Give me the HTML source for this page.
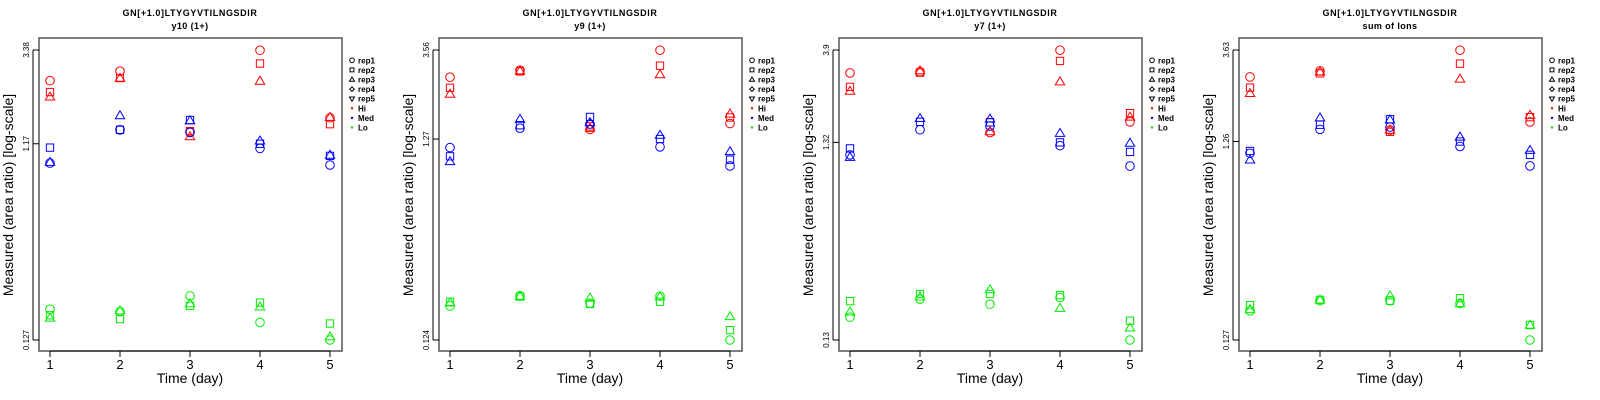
<!DOCTYPE html>
<html><head><meta charset="utf-8"><style>
body{margin:0;background:#fff;width:1600px;height:400px;overflow:hidden}
svg{display:block;font-family:"Liberation Sans",sans-serif}
</style></head><body>
<svg id="chart" width="1600" height="400" viewBox="0 0 1600 400"></svg>
<script>
const days = [1,2,3,4,5];
const groups = ["Hi","Med","Lo"];
const reps = ["rep1","rep2","rep3"];
const legendLabels = ["rep1","rep2","rep3","rep4","rep5","Hi","Med","Lo"];
const panelTitles = ["y10 (1+)","y9 (1+)","y7 (1+)","sum of Ions"];
const peptide = "GN[+1.0]LTYGYVTILNGSDIR";
const yTicks = [[0.127,1.17,3.38],[0.124,1.27,3.56],[0.13,1.32,3.9],[0.127,1.26,3.63]];
// values[panel][group][rep] = values per day
const p1Hi = [[2.39,2.66,1.34,3.37,1.57],[2.10,2.46,1.35,2.90,1.46],[1.99,2.46,1.27,2.38,1.58]];
const p1Med = [[0.94,1.37,1.33,1.11,0.92],[1.12,1.37,1.53,1.17,1.02],[0.95,1.61,1.52,1.21,1.03]];
const p1Lo = [[0.180,0.175,0.209,0.155,0.127],[0.168,0.161,0.187,0.194,0.153],[0.163,0.177,0.192,0.185,0.132]];
const p2Hi = [[2.60,2.82,1.42,3.55,1.52],[2.30,2.78,1.47,2.97,1.63],[2.14,2.80,1.44,2.68,1.70]];
const p2Med = [[1.15,1.44,1.51,1.16,0.93],[1.04,1.49,1.64,1.27,1.00],[0.98,1.60,1.54,1.33,1.10]];
const p2Lo = [[0.184,0.207,0.190,0.206,0.124],[0.193,0.205,0.188,0.193,0.139],[0.191,0.206,0.202,0.205,0.163]];
const p3Hi = [[2.98,3.02,1.48,3.89,1.68],[2.53,2.99,1.67,3.43,1.86],[2.41,3.06,1.50,2.69,1.78]];
const p3Med = [[1.14,1.53,1.60,1.27,1.00],[1.23,1.68,1.67,1.32,1.18],[1.11,1.75,1.74,1.47,1.31]];
const p3Lo = [[0.170,0.210,0.198,0.214,0.130],[0.205,0.223,0.223,0.220,0.163],[0.181,0.216,0.235,0.189,0.150]];
const p4Hi = [[2.66,2.85,1.44,3.62,1.58],[2.35,2.77,1.41,3.10,1.67],[2.20,2.82,1.44,2.60,1.71]];
const p4Med = [[1.10,1.45,1.49,1.19,0.95],[1.13,1.53,1.63,1.26,1.08],[1.02,1.66,1.62,1.33,1.14]];
const p4Lo = [[0.178,0.200,0.200,0.194,0.127],[0.190,0.202,0.200,0.206,0.151],[0.181,0.202,0.212,0.194,0.151]];
const panelData = [[p1Hi,p1Med,p1Lo],[p2Hi,p2Med,p2Lo],[p3Hi,p3Med,p3Lo],[p4Hi,p4Med,p4Lo]];

const NS="http://www.w3.org/2000/svg";
const svg=document.getElementById('chart');
const colors=["#ff0000","#0000ff","#00ee00"];
function mk(tag,attrs,parent){const e=document.createElementNS(NS,tag);for(const k in attrs)e.setAttribute(k,attrs[k]);(parent||svg).appendChild(e);return e;}
function marker(shape,x,y,col,r,g){
  if(shape===0) return mk('circle',{cx:x,cy:y,r:r,fill:'none',stroke:col,'stroke-width':1},g);
  if(shape===1) return mk('rect',{x:x-r*0.85,y:y-r*0.85,width:r*1.7,height:r*1.7,fill:'none',stroke:col,'stroke-width':1},g);
  if(shape===2) return mk('polygon',{points:`${x},${y-r*1.1} ${x-r*1.1},${y+r*0.75} ${x+r*1.1},${y+r*0.75}`,fill:'none',stroke:col,'stroke-width':1},g);
  if(shape===3) return mk('polygon',{points:`${x},${y-r} ${x+r},${y} ${x},${y+r} ${x-r},${y}`,fill:'none',stroke:col,'stroke-width':1},g);
  return mk('polygon',{points:`${x},${y+r*1.1} ${x-r*1.1},${y-r*0.75} ${x+r*1.1},${y-r*0.75}`,fill:'none',stroke:col,'stroke-width':1},g);
}
for(let p=0;p<4;p++){
  const ox=p*400;
  const g=mk('g',{});
  
  
  const lo=Math.log(yTicks[p][0]), hi=Math.log(yTicks[p][2]);
  const yS=v=>50+(hi-Math.log(v))/(hi-lo)*290;
  const xS=d=>ox+50+(d-1)*70;
  let t=mk('text',{x:ox+190,y:16,'text-anchor':'middle','font-size':9,'font-weight':'bold','letter-spacing':'0.6'},g);t.textContent=peptide;
  
  t=mk('text',{x:ox+190,y:29,'text-anchor':'middle','font-size':9,'font-weight':'bold','letter-spacing':'0.4'},g);t.textContent=panelTitles[p];
  
  const box=mk('rect',{x:ox+39,y:38,width:303,height:313,fill:'none',stroke:'#555','stroke-width':1.5},g);
  
  days.forEach(d=>{
    mk('line',{x1:xS(d),x2:xS(d),y1:351,y2:357,stroke:'#000','stroke-width':1},g);
    const tl=mk('text',{x:xS(d),y:369,'text-anchor':'middle','font-size':13},g);tl.textContent=d;
    
  });
  mk('line',{x1:xS(1),x2:xS(5),y1:351,y2:351,stroke:'#000','stroke-width':1},g);
  yTicks[p].forEach(v=>{
    const y=yS(v);
    mk('line',{x1:ox+33,x2:ox+39,y1:y,y2:y,stroke:'#000','stroke-width':1},g);
    const tl=mk('text',{x:ox+29,y:y,'text-anchor':'middle','font-size':8,transform:`rotate(-90 ${ox+29} ${y})`},g);tl.textContent=v;
    
  });
  mk('line',{x1:ox+33,x2:ox+33,y1:yS(yTicks[p][0]),y2:yS(yTicks[p][2]),stroke:'#000','stroke-width':1},g);
  t=mk('text',{x:ox+190,y:383,'text-anchor':'middle','font-size':14},g);t.textContent='Time (day)';
  
  t=mk('text',{x:ox+13,y:195,'text-anchor':'middle','font-size':14,transform:`rotate(-90 ${ox+13} 195)`},g);t.textContent='Measured (area ratio) [log-scale]';
  
  panelData[p].forEach((grp,gi)=>{
    grp.forEach((vals,ri)=>{
      vals.forEach((v,di)=>{
        const m=marker(ri,xS(days[di]),yS(v),colors[gi],4.3,g);
        
        
      });
    });
  });
  legendLabels.forEach((lab,i)=>{
    const y=60.3+i*9.6;
    const e=mk('g',{},g);
    
    
    if(i<5) marker(i,ox+352,y,'#000',2.3,e);
    else mk('circle',{cx:ox+352,cy:y,r:1.2,fill:colors[i-5]},e);
    const tl=mk('text',{x:ox+358,y:y+3,'font-size':8,'font-weight':'bold'},e);tl.textContent=lab;
  });
}
</script>
</body></html>
